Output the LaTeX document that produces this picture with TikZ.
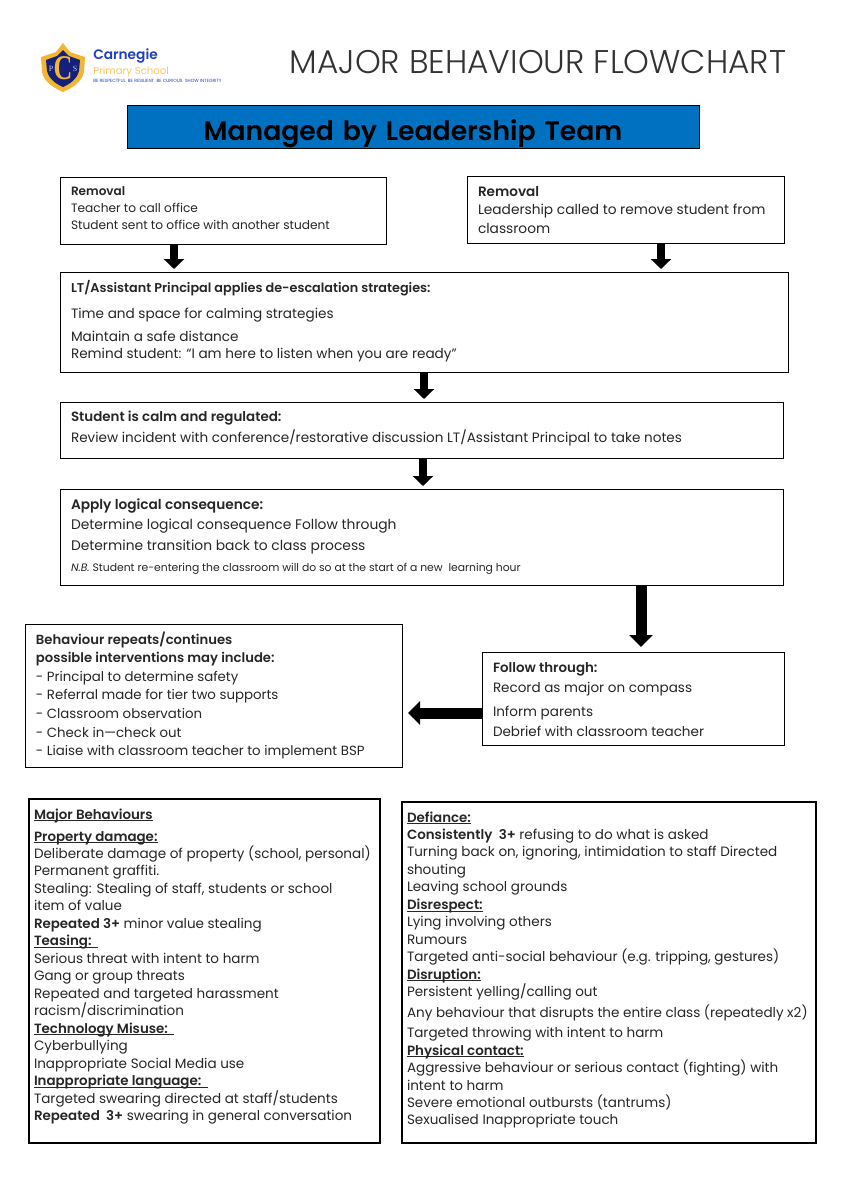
\documentclass[tikz,border=0pt]{standalone}
\usepackage{fontspec}
\setmainfont[BoldFont=Poppins SemiBold,BoldFeatures={Scale=0.99}]{Poppins}
\newfontfamily\fuenteLigera{Poppins Light}
\newfontfamily\fuenteEscudo{Liberation Serif}
\usetikzlibrary{arrows.meta, positioning, calc}
\def\px{0.75pt}
\definecolor{azulTitulo}{HTML}{0070C0}
\definecolor{azulLogo}{HTML}{1F3FBF}
\definecolor{marinoLogo}{HTML}{14207A}
\definecolor{oroLogo}{HTML}{F2B632}
\definecolor{amarilloLogo}{HTML}{FFC65C}
\colorlet{colTexto}{black!85}
\newcommand{\subtitulo}[1]{\leavevmode\sbox0{\textbf{#1}}\rlap{\rule[-1.5pt]{\wd0}{0.6pt}}\usebox0}
\tikzset{
  cajaBase/.style n args={3}{
    draw=black, line width=0.75pt, outer sep=0pt, anchor=north west, align=flush left,
    text=colTexto, inner ysep=0pt, inner xsep=11*\px,
    text width={(#1-22)*\px}, text height={#3*\px}, text depth={(#2-#3)*\px},
    font=\fontsize{10.15pt}{13.1pt}\selectfont
  },
  cajaGrande/.style n args={3}{cajaBase={#1}{#2}{#3}, line width=1.6pt, inner xsep=5*\px,
    text width={(#1-10)*\px}},
  flecha/.style={-{Triangle[length=10*\px,width=20*\px]}, line width=8*\px, black, shorten >=3*\px},
  flechaLarga/.style={-{Triangle[length=12*\px,width=23*\px]}, line width=11*\px, black},
  logoTexto/.style={anchor=base west, inner sep=0pt},
}
\begin{document}
\begin{tikzpicture}[x=0.75pt, y=-0.75pt]
  \useasboundingbox (0,0) rectangle (849,1200);

  % Escudo del logo
  \fill[oroLogo] (63,43) -- (70,52) -- (85,57) -- (84,72) .. controls (82,82) and (72,88) .. (63,92)
    .. controls (54,88) and (44,82) .. (42,72) -- (41,57) -- (56,52) -- cycle;
  \fill[marinoLogo] (63,50) -- (69,56) -- (80,60) -- (79,71) .. controls (77,79) and (70,84) .. (63,87)
    .. controls (56,84) and (49,79) .. (47,71) -- (46,60) -- (57,56) -- cycle;
  \node[inner sep=0pt, text=white!75!azulLogo, font=\fuenteEscudo\fontsize{6pt}{6pt}\selectfont] (escudoP) at (51,69) {P};
  \node[inner sep=0pt, text=white!75!azulLogo, font=\fuenteEscudo\fontsize{6pt}{6pt}\selectfont] (escudoS) at (75,69) {S};
  \node[inner sep=0pt, text=oroLogo, xscale=0.75, font=\fuenteEscudo\fontsize{26pt}{26pt}\selectfont\bfseries] (escudoLetra) at (63,68) {C};
  \node[logoTexto, text=azulLogo, font=\fontsize{10.4pt}{12pt}\selectfont\bfseries] (logoNombre) at (93,59) {Carnegie};
  \node[logoTexto, text=amarilloLogo, font=\fontsize{7.6pt}{9pt}\selectfont] (logoPrimaria) at (93,74) {Primary School};
  \node[logoTexto, text=azulLogo, font=\fontsize{3.4pt}{4pt}\selectfont] (logoLema) at (93,82)
    {BE RESPECTFUL\ \ BE RESILIENT\ \ BE CURIOUS\ \ SHOW INTEGRITY};

  % Encabezado
  \node[inner sep=0pt, anchor=base, text=black!80, font=\fuenteLigera\fontsize{24.6pt}{28pt}\selectfont] (encabezado) at (538,73) {MAJOR BEHAVIOUR FLOWCHART};
  \node[draw=black, line width=0.75pt, outer sep=0pt, fill=azulTitulo, anchor=north west, minimum width=572*\px,
    inner xsep=0pt, inner ysep=0pt, text height=35*\px, text depth=8*\px, align=center, text width=572*\px,
    font=\fontsize{20.2pt}{24pt}\selectfont\bfseries] (titulo) at (127,105) {Managed by Leadership Team};

  % Flujo
  \node[cajaBase={326}{67}{18}, font=\fontsize{9.13pt}{12.75pt}\selectfont] (retiroA) at (60,177)
    {\textbf{Removal}\\Teacher to call office\\Student sent to office with another student};
  \node[cajaBase={317}{67}{20}, font=\fontsize{10.3pt}{13.9pt}\selectfont] (retiroB) at (467,176)
    {\textbf{Removal}\\Leadership called to remove student from\\classroom};
  \node[cajaBase={728}{100}{20}, font=\fontsize{10.2pt}{12.75pt}\selectfont] (calma) at (60,272)
    {\textbf{\fontsize{9.7pt}{12.75pt}\selectfont LT/Assistant Principal applies de-escalation strategies:}\\[6.75pt]Time and space for calming strategies\\[4.5pt]Maintain a safe distance\\Remind student: “I am here to listen when you are ready”};
  \node[cajaBase={723}{56}{19}, font=\fontsize{10.18pt}{15.75pt}\selectfont] (regulado) at (60,402)
    {\textbf{Student is calm and regulated:}\\Review incident with conference/restorative discussion LT/Assistant Principal to take notes};
  \node[cajaBase={723}{96}{20}, font=\fontsize{10.38pt}{15.5pt}\selectfont] (consecuencia) at (60,489)
    {\textbf{Apply logical consequence:}\\Determine logical consequence Follow through\\Determine transition back to class process\\{\fontsize{8.1pt}{14pt}\selectfont\itshape N.B.\upshape\ Student re-entering the classroom will do so at the start of a new\ \ learning hour}};
  \node[cajaBase={302}{93}{20}, font=\fontsize{10.15pt}{15pt}\selectfont] (seguimiento) at (482,652)
    {\textbf{Follow through:}\\Record as major on compass\\[3pt]Inform parents\\Debrief with classroom teacher};
  \node[cajaBase={377}{143}{20}, font=\fontsize{10pt}{13.95pt}\selectfont] (repite) at (25,624)
    {\textbf{Behaviour repeats/continues}\\\textbf{possible interventions may include:}\\- Principal to determine safety\\- Referral made for tier two supports\\- Classroom observation\\- Check in—check out\\- Liaise with classroom teacher to implement BSP};

  % Listas de conductas
  \node[cajaGrande={351}{344}{20}] (conductasA) at (29,799)
    {\subtitulo{Major Behaviours}\\[3.4pt]
     \subtitulo{Property damage:}\\Deliberate damage of property (school, personal)\\Permanent graffiti.\\Stealing: Stealing of staff, students or school\\item of value\\\textbf{Repeated 3+} minor value stealing\\
     \subtitulo{Teasing:\ \ }\\Serious threat with intent to harm\\Gang or group threats\\Repeated and targeted harassment\\racism/discrimination\\
     \subtitulo{Technology Misuse:\ \ }\\Cyberbullying\\Inappropriate Social Media use\\
     \subtitulo{Inappropriate language:\ \ }\\Targeted swearing directed at staff/students\\\textbf{Repeated\ \ 3+} swearing in general conversation};
  \node[cajaGrande={414}{341}{20}] (conductasB) at (402,802)
    {\subtitulo{Defiance:}\\\textbf{Consistently\ \ 3+} refusing to do what is asked\\Turning back on, ignoring, intimidation to staff Directed\\shouting\\Leaving school grounds\\
     \subtitulo{Disrespect:}\\Lying involving others\\Rumours\\Targeted anti-social behaviour (e.g. tripping, gestures)\\
     \subtitulo{Disruption:}\\Persistent yelling/calling out\\[2.5pt]Any behaviour that disrupts the entire class (repeatedly x2)\\[2pt]Targeted throwing with intent to harm\\
     \subtitulo{Physical contact:}\\Aggressive behaviour or serious contact (fighting) with\\intent to harm\\Severe emotional outbursts (tantrums)\\Sexualised Inappropriate touch};

  % Flechas
  \draw[flecha] ([xshift=-49*\px]retiroA.south) -- ([xshift=-250*\px]calma.north);
  \draw[flecha] ([xshift=35.5*\px]retiroB.south) -- ([xshift=237*\px]calma.north);
  \draw[flecha] (calma.south) -- ([xshift=2.5*\px]regulado.north);
  \draw[flecha] ([xshift=1.5*\px]regulado.south) -- ([xshift=1.5*\px]consecuencia.north);
  \draw[flechaLarga, shorten >=5*\px] ([xshift=219.5*\px]consecuencia.south) -- ([xshift=8*\px]seguimiento.north);
  \draw[flechaLarga, shorten >=6*\px] ([yshift=-14.5*\px]seguimiento.west) -- ([yshift=-17.5*\px]repite.east);
\end{tikzpicture}
\end{document}
